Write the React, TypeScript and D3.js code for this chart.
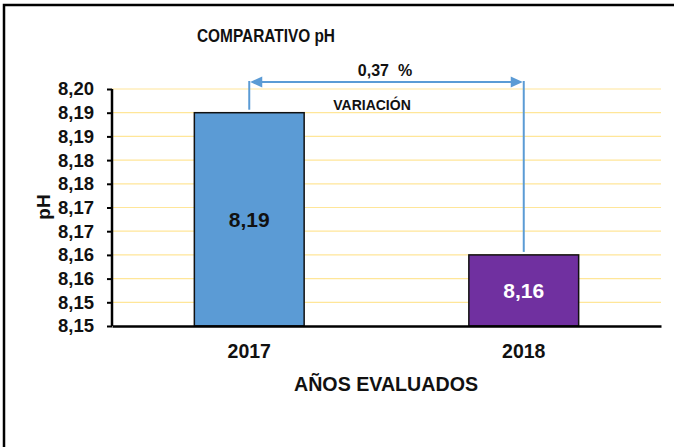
import React, { useEffect, useRef } from 'react';
import * as d3 from 'd3';

const years = ['2017', '2018'];
const phValues = [8.195, 8.165];
const valueLabels = ['8,19', '8,16'];
const barColors = ['#5B9BD5', '#7030A0'];
const labelColors = ['#111111', '#ffffff'];
const tickValues = [8.15, 8.155, 8.16, 8.165, 8.17, 8.175, 8.18, 8.185, 8.19, 8.195, 8.2];
const tickLabels = ['8,15', '8,15', '8,16', '8,16', '8,17', '8,17', '8,18', '8,18', '8,19', '8,19', '8,20'];
const variationLabel = '0,37  %';

const App: React.FC = () => {
  const chartRef = useRef<SVGSVGElement>(null);

  useEffect(() => {
    if (!chartRef.current) return;
    const width = 674;
    const height = 447;
    const margin = { top: 89, right: 13, bottom: 121, left: 112 };
    const font = 'Arial, "Liberation Sans", sans-serif';

    const svg = d3.select(chartRef.current);
    svg.selectAll('*').remove();

    svg.append('rect').attr('width', width).attr('height', height).attr('fill', '#fff');

    // outer frame
    svg
      .append('rect')
      .attr('x', 4)
      .attr('y', 5)
      .attr('width', width + 20)
      .attr('height', height + 20)
      .attr('fill', 'none')
      .attr('stroke', '#000')
      .attr('stroke-width', 2.5);

    const xScale = d3
      .scaleBand<string>()
      .domain(years)
      .range([margin.left, width - margin.right])
      .paddingInner(0.6)
      .paddingOuter(0.3);

    const yScale = d3
      .scaleLinear()
      .domain([8.15, 8.2])
      .range([height - margin.bottom, margin.top]);

    // grid
    svg
      .append('g')
      .selectAll('line')
      .data(tickValues.slice(1))
      .enter()
      .append('line')
      .attr('x1', margin.left)
      .attr('x2', width - margin.right)
      .attr('y1', (d) => yScale(d))
      .attr('y2', (d) => yScale(d))
      .attr('stroke', '#FFE699')
      .attr('stroke-width', 1.2);

    // bars
    svg
      .append('g')
      .selectAll('rect')
      .data(phValues)
      .enter()
      .append('rect')
      .attr('x', (d, i) => xScale(years[i])!)
      .attr('y', (d) => yScale(d))
      .attr('width', xScale.bandwidth())
      .attr('height', (d) => yScale(8.15) - yScale(d))
      .attr('fill', (d, i) => barColors[i])
      .attr('stroke', '#111')
      .attr('stroke-width', 1.5);

    svg
      .append('g')
      .selectAll('text')
      .data(phValues)
      .enter()
      .append('text')
      .attr('x', (d, i) => xScale(years[i])! + xScale.bandwidth() / 2)
      .attr('y', (d) => (yScale(d) + yScale(8.15)) / 2)
      .attr('dy', '0.36em')
      .attr('text-anchor', 'middle')
      .attr('font-family', font)
      .attr('font-weight', 'bold')
      .attr('font-size', 21)
      .attr('fill', (d, i) => labelColors[i])
      .text((d, i) => valueLabels[i]);

    // y axis
    const yAxis = svg
      .append('g')
      .attr('transform', `translate(${margin.left},0)`)
      .call(
        d3
          .axisLeft(yScale)
          .tickValues(tickValues)
          .tickSize(5)
          .tickPadding(13)
          .tickFormat((d, i) => tickLabels[i]),
      );
    yAxis.select('.domain').attr('stroke', '#000').attr('stroke-width', 2.5).attr('d', `M0,${yScale(8.2)}V${yScale(8.15)}`);
    yAxis.selectAll('.tick line').attr('stroke', '#000').attr('stroke-width', 2);
    yAxis
      .selectAll('.tick text')
      .attr('font-family', font)
      .attr('font-weight', 'bold')
      .attr('font-size', 18.5)
      .attr('fill', '#111');

    // x axis
    const xAxis = svg
      .append('g')
      .attr('transform', `translate(0,${yScale(8.15)})`)
      .call(d3.axisBottom(xScale).tickSize(0).tickPadding(18));
    xAxis.select('.domain').attr('stroke', '#000').attr('stroke-width', 2.5);
    xAxis
      .selectAll('.tick text')
      .attr('font-family', font)
      .attr('font-weight', 'bold')
      .attr('font-size', 19.5)
      .attr('fill', '#111');

    // titles
    svg
      .append('text')
      .attr('x', 266)
      .attr('y', 42)
      .attr('text-anchor', 'middle')
      .attr('font-family', font)
      .attr('font-weight', 'bold')
      .attr('font-size', 19)
      .attr('textLength', 138)
      .attr('lengthAdjust', 'spacingAndGlyphs')
      .attr('fill', '#111')
      .text('COMPARATIVO pH');

    svg
      .append('text')
      .attr('x', 386)
      .attr('y', 391)
      .attr('text-anchor', 'middle')
      .attr('font-family', font)
      .attr('font-weight', 'bold')
      .attr('font-size', 20)
      .attr('textLength', 184)
      .attr('lengthAdjust', 'spacingAndGlyphs')
      .attr('fill', '#111')
      .text('AÑOS EVALUADOS');

    svg
      .append('text')
      .attr('transform', `translate(50,207) rotate(-90)`)
      .attr('text-anchor', 'middle')
      .attr('font-family', font)
      .attr('font-weight', 'bold')
      .attr('font-size', 19)
      .attr('fill', '#111')
      .text('pH');

    // variation arrow
    const xa = xScale(years[0])! + xScale.bandwidth() / 2;
    const xb = xScale(years[1])! + xScale.bandwidth() / 2;
    const ya = yScale(8.2) - 7;
    const arrowColor = '#5B9BD5';
    const g = svg.append('g').attr('stroke', arrowColor).attr('stroke-width', 2).attr('fill', 'none');
    g.append('line').attr('x1', xa).attr('x2', xa).attr('y1', ya - 1).attr('y2', yScale(phValues[0]) - 3);
    g.append('line').attr('x1', xb).attr('x2', xb).attr('y1', ya - 1).attr('y2', yScale(phValues[1]) - 3);
    g.append('line').attr('x1', xa + 8).attr('x2', xb - 8).attr('y1', ya).attr('y2', ya);
    svg
      .append('path')
      .attr('d', `M${xa + 1},${ya}L${xa + 13},${ya - 5.5}L${xa + 13},${ya + 5.5}Z`)
      .attr('fill', arrowColor);
    svg
      .append('path')
      .attr('d', `M${xb - 1},${ya}L${xb - 13},${ya - 5.5}L${xb - 13},${ya + 5.5}Z`)
      .attr('fill', arrowColor);

    svg
      .append('text')
      .attr('x', 385)
      .attr('y', 76)
      .attr('text-anchor', 'middle')
      .attr('font-family', font)
      .attr('font-weight', 'bold')
      .attr('font-size', 16)
      .attr('fill', '#111')
      .style('white-space', 'pre')
      .text(variationLabel);

    svg
      .append('text')
      .attr('x', 372)
      .attr('y', 110)
      .attr('text-anchor', 'middle')
      .attr('font-family', font)
      .attr('font-weight', 'bold')
      .attr('font-size', 14)
      .attr('fill', '#111')
      .text('VARIACIÓN');
  }, []);

  return (
    <svg
      ref={chartRef}
      width={674}
      height={447}
      style={{ position: 'absolute', left: 0, top: 0, display: 'block' }}
    ></svg>
  );
};

export default App;
